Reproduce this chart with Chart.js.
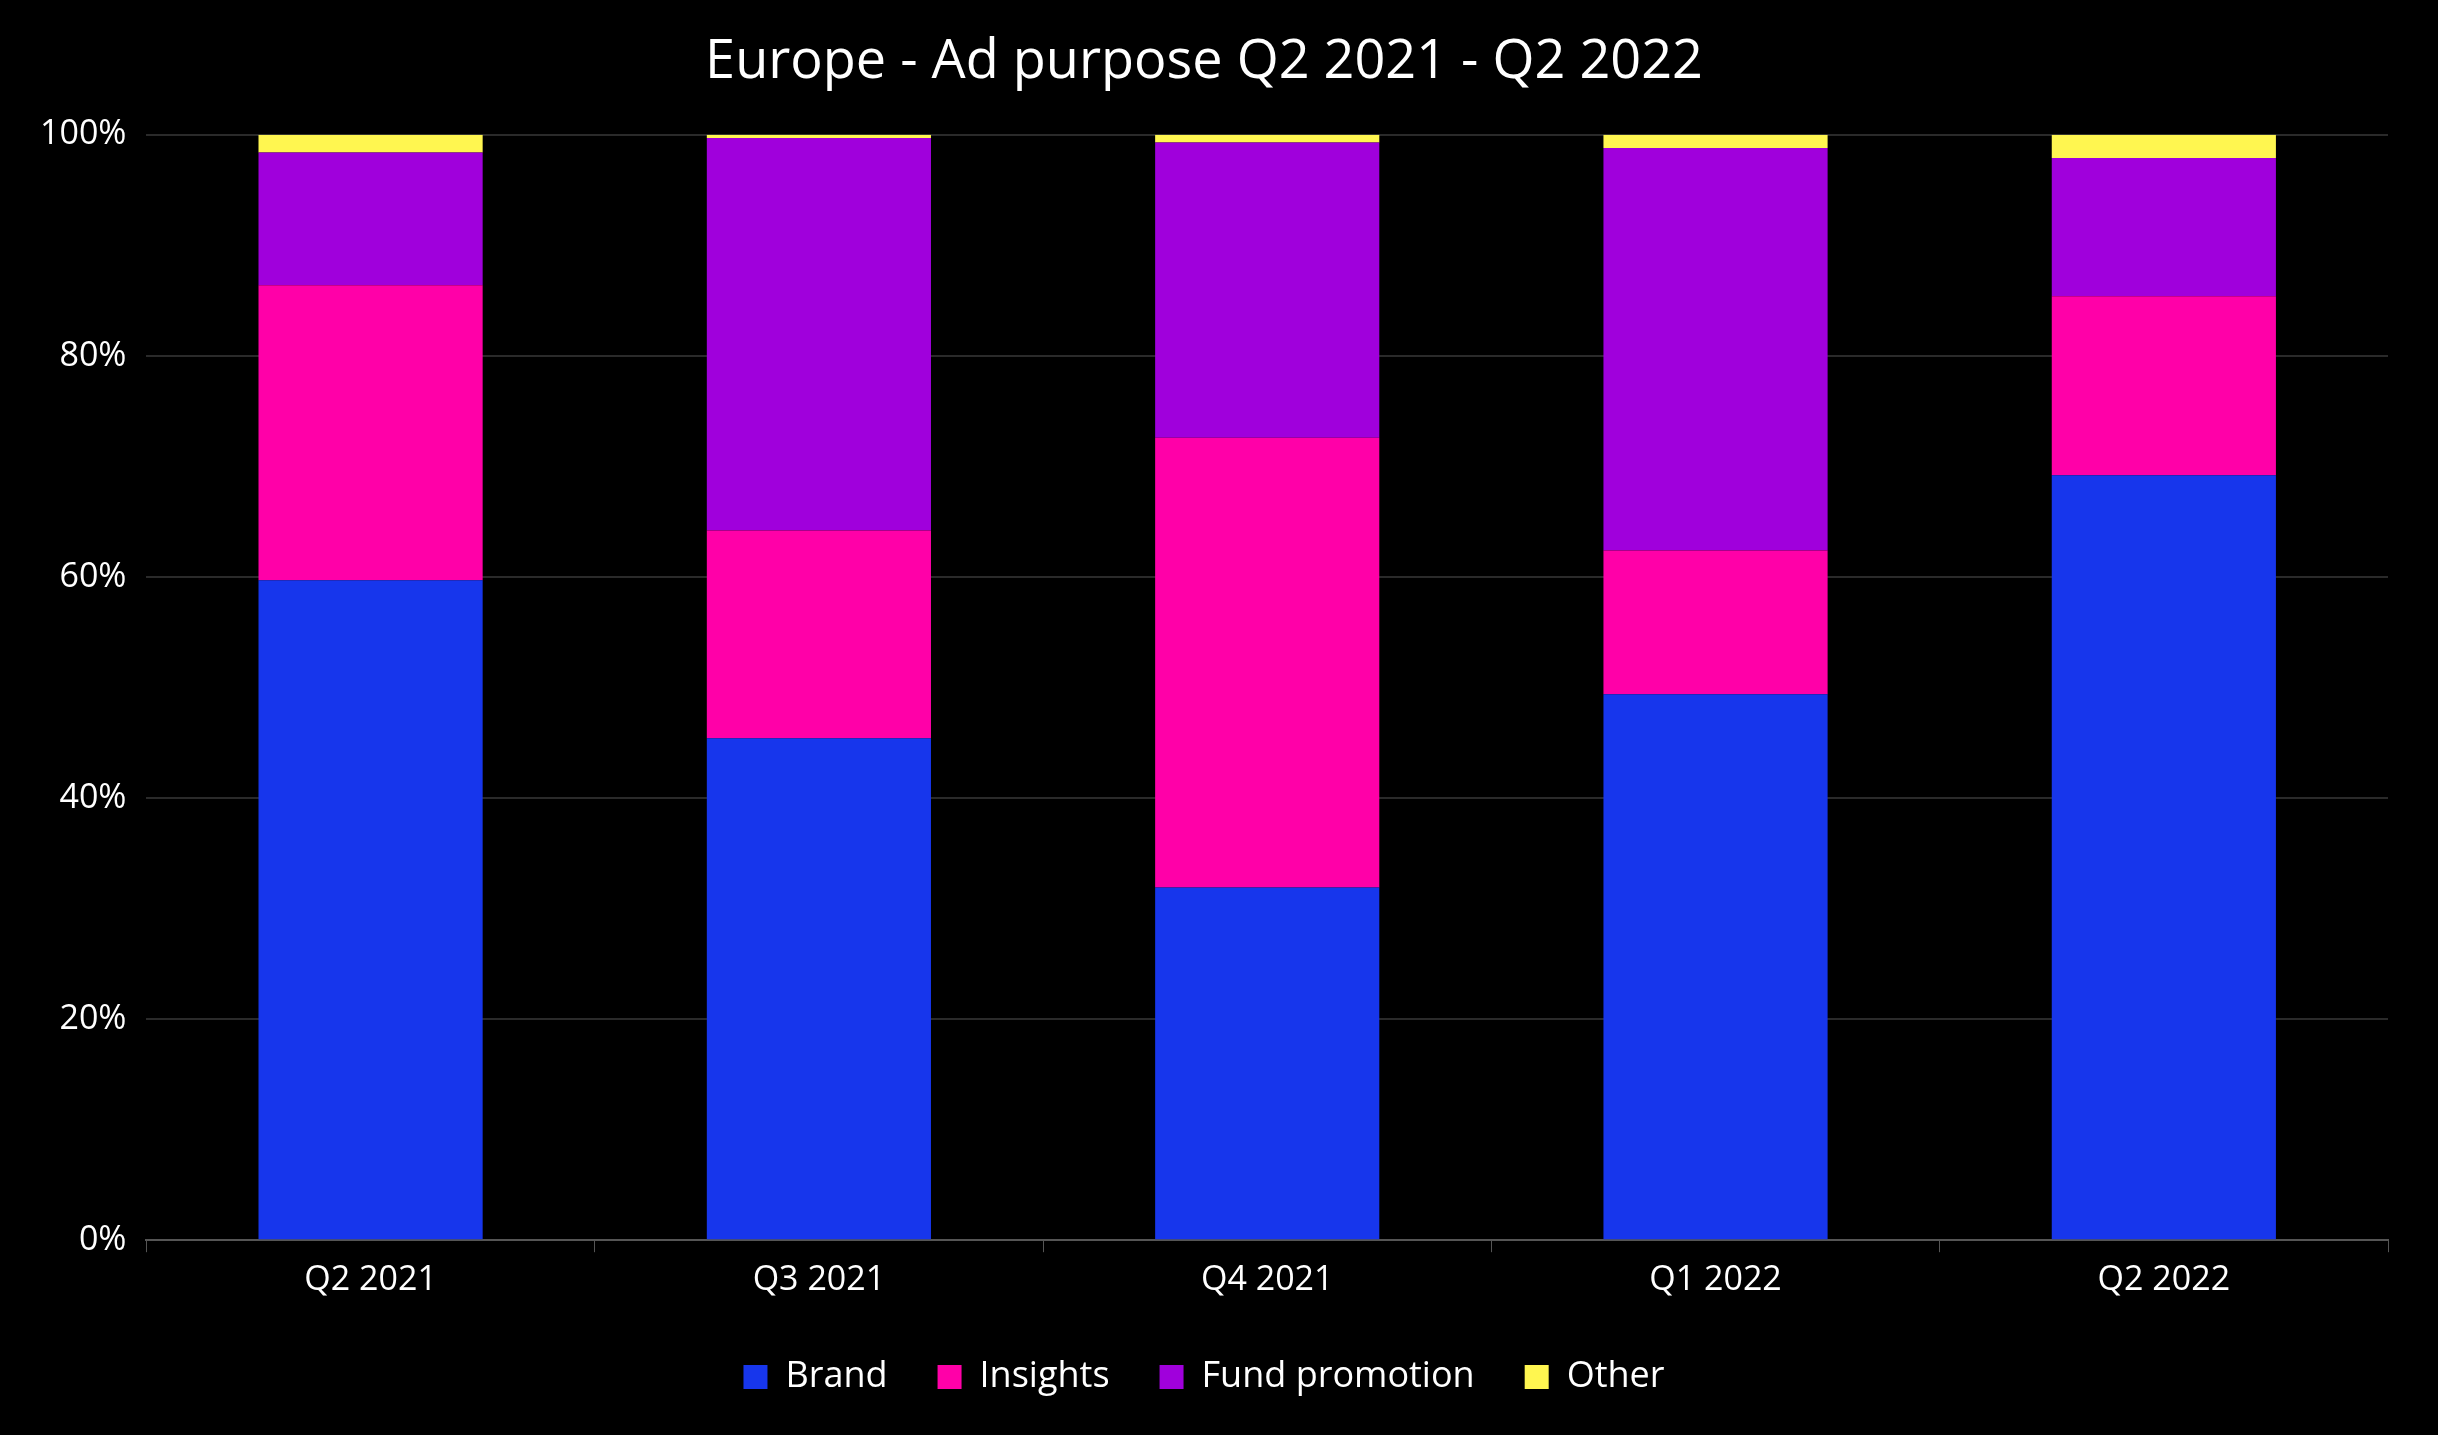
<!DOCTYPE html>
<html><head><meta charset="utf-8">
<script src="https://cdn.jsdelivr.net/npm/chart.js@4"></script>
<style>html,body{margin:0;background:#000;}#w{width:2438px;height:1435px;}</style>
</head><body><div id="w"><canvas id="c"></canvas></div>
<script>
const categories=["Q2 2021","Q3 2021","Q4 2021","Q1 2022","Q2 2022"];
const brand=[59.7,45.4,31.9,49.4,69.2];
const insights=[26.7,18.8,40.7,13.0,16.2];
const fundPromotion=[12.0,35.5,26.7,36.4,12.5];
const other=[1.6,0.3,0.7,1.2,2.1];
const yTicks=[0,20,40,60,80,100];
const F="'Open Sans', sans-serif";
new Chart(document.getElementById('c'),{type:'bar',
data:{labels:categories,datasets:[
{label:'Brand',data:brand,backgroundColor:'#1736EC'},
{label:'Insights',data:insights,backgroundColor:'#FF00A8'},
{label:'Fund promotion',data:fundPromotion,backgroundColor:'#A000DC'},
{label:'Other',data:other,backgroundColor:'#FFF650'}]},
options:{responsive:true,maintainAspectRatio:false,animation:false,
layout:{padding:{left:20,right:50,top:30,bottom:30}},
datasets:{bar:{categoryPercentage:1,barPercentage:0.5,borderWidth:0}},
plugins:{title:{display:true,text:'Europe - Ad purpose Q2 2021 - Q2 2022',color:'#fff',font:{family:F,size:54,weight:'normal'},padding:{bottom:40}},
legend:{position:'bottom',labels:{color:'#fff',font:{family:F,size:36},boxWidth:24,boxHeight:24,padding:50}},tooltip:{enabled:false}},
scales:{x:{stacked:true,ticks:{color:'#fff',font:{family:F,size:34},padding:8},grid:{drawOnChartArea:false,color:'#555',tickLength:12},border:{color:'#555',width:2}},
y:{stacked:true,min:0,max:100,afterBuildTicks:a=>{a.ticks=yTicks.map(v=>({value:v}));},ticks:{color:'#fff',font:{family:F,size:34},callback:v=>v+'%',padding:20},grid:{color:'#2a2a2a',lineWidth:2,drawTicks:false},border:{display:false}}}}});
</script></body></html>
